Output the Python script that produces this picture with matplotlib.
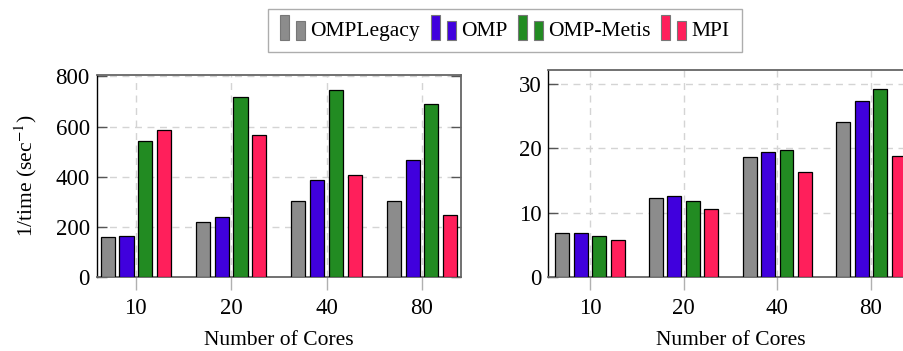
import numpy as np
import matplotlib
matplotlib.use('Agg')
import matplotlib.pyplot as plt
from matplotlib.patches import Rectangle
from matplotlib.legend_handler import HandlerBase

plt.rcParams['font.family'] = ['Liberation Serif', 'DejaVu Serif']
plt.rcParams['mathtext.fontset'] = 'stix'

# data
cores = ['10', '20', '40', '80']
series = ['OMPLegacy', 'OMP', 'OMP-Metis', 'MPI']
colors = ['#8c8c8c', '#4000dd', '#228b22', '#ff1f5b']

left_vals = {
    'OMPLegacy': [159, 218, 301, 301],
    'OMP': [163, 238, 387, 467],
    'OMP-Metis': [543, 716, 747, 691],
    'MPI': [585, 567, 405, 248],
}
right_vals = {
    'OMPLegacy': [6.85, 12.25, 18.58, 24.13],
    'OMP': [6.85, 12.56, 19.41, 27.35],
    'OMP-Metis': [6.33, 11.83, 19.72, 29.27],
    'MPI': [5.7, 10.59, 16.3, 18.73],
}


class TwoBars(HandlerBase):
    # pgfplots style ybar legend: two little bars
    def create_artists(self, legend, orig, xd, yd, w, h, fs, trans):
        fc = orig.patches[0].get_facecolor()
        bw = w * 0.36
        y0 = -yd - h * 0.3
        r1 = Rectangle((-xd, y0), bw, h * 1.65, facecolor=fc,
                       edgecolor='#777777', lw=0.8, transform=trans)
        r2 = Rectangle((-xd + w - bw, y0), bw, h * 1.25, facecolor=fc,
                       edgecolor='#777777', lw=0.8, transform=trans)
        return [r1, r2]


def draw(ax, vals, ymax, yticks, xmargin):
    x = np.arange(len(cores))
    offs = [-0.295, -0.098, 0.098, 0.295]
    bars = []
    for i, s in enumerate(series):
        b = ax.bar(x + offs[i], vals[s], width=0.148, color=colors[i],
                   edgecolor='black', linewidth=0.9, label=s, zorder=3)
        bars.append(b)
    ax.set_xlim(-xmargin, 3 + xmargin)
    ax.set_ylim(0, ymax)
    ax.set_xticks(x)
    ax.set_xticklabels(cores)
    ax.set_yticks(yticks)
    ax.grid(True, color='#d4d4d4', linestyle=(0, (5, 4)), linewidth=1.0, zorder=0)
    ax.set_axisbelow(True)
    ax.tick_params(axis='y', direction='in', length=7, width=1.0, color='#555555',
                   left=True, right=True, labelsize=16.5, pad=5)
    ax.tick_params(axis='x', direction='out', length=9, width=1.0, color='#b0b0b0',
                   labelsize=16.5, pad=6)
    for side in ['top', 'right', 'bottom']:
        ax.spines[side].set_color('#666666')
        ax.spines[side].set_linewidth(1.3)
    ax.spines['left'].set_color('black')
    ax.spines['left'].set_linewidth(1.0)
    ax.set_xlabel('Number of Cores', fontsize=15.5, labelpad=9)
    return bars


fig = plt.figure(figsize=(9.04, 3.51), dpi=100)
ax1 = fig.add_axes([0.107, 0.211, 0.403, 0.575])
ax2 = fig.add_axes([0.6065, 0.211, 0.403, 0.590])

bars = draw(ax1, left_vals, 805, [0, 200, 400, 600, 800], 0.41)
draw(ax2, right_vals, 32.2, [0, 10, 20, 30], 0.445)
ax1.set_ylabel('1/time (sec$^{-1}$)', fontsize=15.5, labelpad=12)

leg = fig.legend(bars, series, loc='center', bbox_to_anchor=(0.5586, 0.913),
                 ncol=4, fontsize=15.5, frameon=True, fancybox=False,
                 handler_map={b: TwoBars() for b in bars},
                 handlelength=1.15, handletextpad=0.25, columnspacing=0.5,
                 borderpad=0.55, borderaxespad=0)
leg.get_frame().set_edgecolor('#999999')
leg.get_frame().set_linewidth(1.0)

fig.savefig('out.png', dpi=100)
